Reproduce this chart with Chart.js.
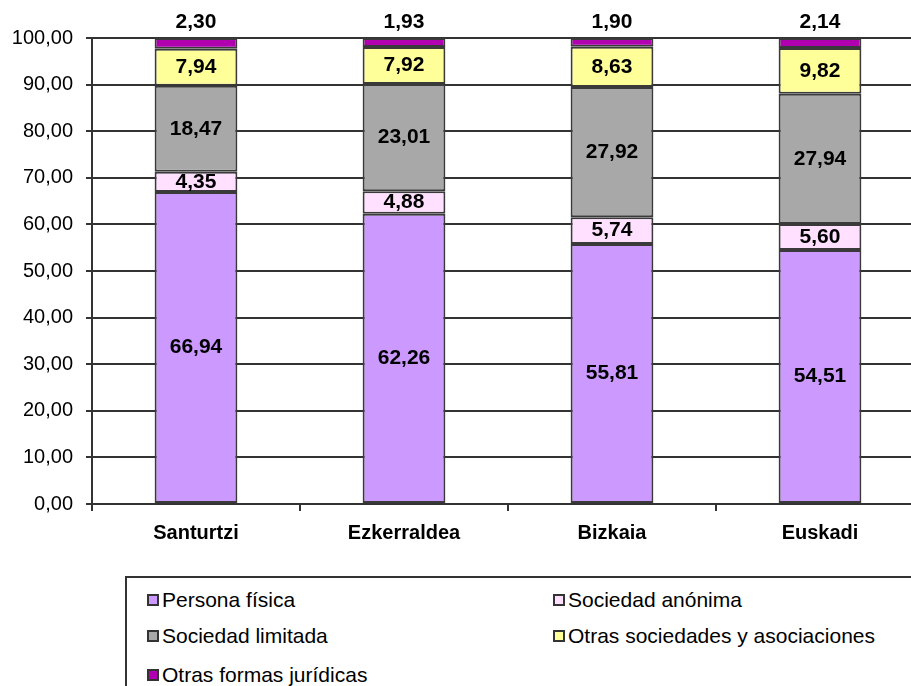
<!DOCTYPE html>
<html>
<head>
<meta charset="utf-8">
<script src="https://cdn.jsdelivr.net/npm/chart.js@4"></script>
<style>
  body { margin: 0; overflow: hidden; background: #fff; font-family: Arial, "Liberation Sans", sans-serif; }
  #wrap { position: relative; width: 911px; height: 686px; overflow: hidden; }
  #legend { position: absolute; left: 125px; top: 576px; width: 820px; height: 140px;
            border-top: 2px solid #333; border-left: 2px solid #333; }
  .item { position: absolute; display: flex; align-items: center; font-size: 21px; color: #000; white-space: nowrap; }
  .box { display: inline-block; flex-shrink: 0; box-sizing: border-box; width: 12px; height: 12px;
         border: 2px solid #333; margin-right: 3px; }
</style>
</head>
<body>
<div id="wrap">
  <canvas id="myChart" width="924" height="560"></canvas>
  <div id="legend"></div>
</div>
<script>
const labels = ["Santurtzi", "Ezkerraldea", "Bizkaia", "Euskadi"];
const personaFisica = [66.94, 62.26, 55.81, 54.51];
const sociedadAnonima = [4.35, 4.88, 5.74, 5.60];
const sociedadLimitada = [18.47, 23.01, 27.92, 27.94];
const otrasSociedades = [7.94, 7.92, 8.63, 9.82];
const otrasFormas = [2.30, 1.93, 1.90, 2.14];

const fmt = (v) => v.toFixed(2).replace(".", ",");

function ds(label, data, color) {
  return {
    label: label,
    data: data,
    backgroundColor: color,
    borderColor: "#3a3a3a",
    borderWidth: 2,
    borderSkipped: false,
    categoryPercentage: 1,
    barPercentage: 0.398,
  };
}

const data = {
  labels: labels,
  datasets: [
    ds("Persona física", personaFisica, "#CC99FF"),
    ds("Sociedad anónima", sociedadAnonima, "#FFE0FF"),
    ds("Sociedad limitada", sociedadLimitada, "#A8A8A8"),
    ds("Otras sociedades y asociaciones", otrasSociedades, "#FFFF99"),
    ds("Otras formas jurídicas", otrasFormas, "#B000B0"),
  ],
};

// value labels inside segments, last series above the bar
const valueLabels = {
  id: "valueLabels",
  afterDatasetsDraw(chart) {
    const ctx = chart.ctx;
    const last = chart.data.datasets.length - 1;
    ctx.save();
    ctx.font = "bold 21px Arial, 'Liberation Sans', sans-serif";
    ctx.fillStyle = "#000";
    ctx.textAlign = "center";
    ctx.textBaseline = "middle";
    chart.data.datasets.forEach((d, i) => {
      chart.getDatasetMeta(i).data.forEach((el, j) => {
        const y = i === last ? el.y - 16 : (el.y + el.base) / 2;
        ctx.fillText(fmt(d.data[j]), el.x, y);
      });
    });
    ctx.restore();
  },
};

const config = {
  type: "bar",
  data: data,
  plugins: [valueLabels],
  options: {
    responsive: false,
    animation: false,
    layout: { padding: { top: 38, left: 0, right: 0, bottom: 0 } },
    plugins: { legend: { display: false }, tooltip: { enabled: false } },
    scales: {
      x: {
        stacked: true,
        afterFit(scale) { scale.height = 56; },
        grid: { drawOnChartArea: false, drawTicks: true, tickLength: 7, color: "#333", lineWidth: 2, offset: true },
        border: { display: true, color: "#333", width: 2 },
        ticks: { color: "#000", padding: 10, font: { family: "Arial, 'Liberation Sans'", size: 20, weight: "bold" } },
      },
      y: {
        stacked: true,
        min: 0,
        max: 100,
        afterFit(scale) { scale.width = 92; },
        grid: { color: "#333", lineWidth: 2, tickLength: 6 },
        border: { display: true, color: "#333", width: 2 },
        ticks: {
          stepSize: 10,
          color: "#000",
          padding: 13,
          font: { family: "Arial, 'Liberation Sans'", size: 20 },
          callback: (v) => fmt(v),
        },
      },
    },
  },
};

const myChart = new Chart(document.getElementById("myChart"), config);

// legend in two columns, built from the datasets
const legendPos = [[20, 22], [426, 22], [20, 58], [426, 58], [20, 97]];
const legend = document.getElementById("legend");
myChart.data.datasets.forEach((d, i) => {
  const item = document.createElement("div");
  item.className = "item";
  item.style.left = legendPos[i][0] + "px";
  item.style.top = (legendPos[i][1] - 12) + "px";
  const box = document.createElement("span");
  box.className = "box";
  box.style.background = d.backgroundColor;
  item.appendChild(box);
  item.appendChild(document.createTextNode(d.label));
  legend.appendChild(item);
});
</script>
</body>
</html>
